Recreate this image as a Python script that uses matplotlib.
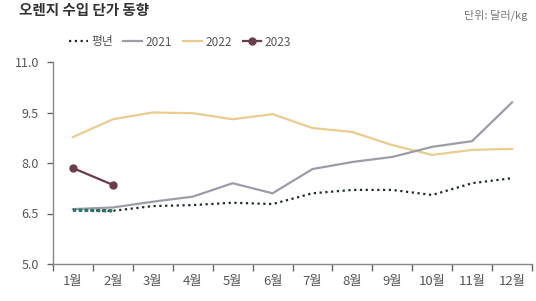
import matplotlib
matplotlib.use("Agg")
import matplotlib.pyplot as plt

plt.rcParams['font.family'] = ['Noto Sans CJK KR', 'DejaVu Sans']

months = ['1월', '2월', '3월', '4월', '5월', '6월', '7월', '8월', '9월', '10월', '11월', '12월']
avg = [6.60, 6.58, 6.72, 6.75, 6.82, 6.78, 7.10, 7.20, 7.20, 7.05, 7.40, 7.55]
y2021 = [6.63, 6.68, 6.85, 7.00, 7.40, 7.10, 7.82, 8.03, 8.18, 8.48, 8.65, 9.80]
y2022 = [8.77, 9.30, 9.50, 9.48, 9.30, 9.45, 9.04, 8.92, 8.53, 8.24, 8.39, 8.42]
y2023 = [7.85, 7.35]
yticks = [5.0, 6.5, 8.0, 9.5, 11.0]

fig = plt.figure(figsize=(5.36, 3.01), dpi=100)
ax = fig.add_axes([53/536, 1 - 264/301, (532-53)/536, (264-62)/301])

x = list(range(len(months)))
ax.plot(x, y2022, color='#E9CC8E', lw=1.6, label='2022', zorder=2)
ax.plot(x, y2021, color='#9C9CA8', lw=1.6, label='2021', zorder=2)
ax.plot(x, avg, color='#1d2a28', lw=1.6, ls=(0, (1, 1.6)), label='평년', zorder=3)
ax.plot(x[:2], avg[:2], color='#1f7a68', lw=2.4, ls=(0, (1, 0.8)), zorder=4)
ax.plot(x[:2], y2023, color='#6a3c4c', lw=1.6, marker='o', ms=5, label='2023', zorder=5)

ax.set_xlim(-0.5, 11.5)
ax.set_ylim(5.0, 11.0)
ax.set_yticks(yticks)
ax.set_yticklabels([f'{v:.1f}' for v in yticks])
ax.set_xticks([i - 0.5 for i in range(13)])
ax.set_xticklabels([])
ax.set_xticks(x, minor=True)
ax.set_xticklabels(months, minor=True)
ax.tick_params(axis='x', which='minor', length=0, pad=8, labelsize=9.5, colors='#555555')
ax.tick_params(axis='x', which='major', length=5, width=1, color='#666666', direction='out')
ax.tick_params(axis='y', length=4, width=1, color='#666666', labelsize=9, labelcolor='#555555', pad=6)

for s in ['top', 'right']:
    ax.spines[s].set_visible(False)
for s in ['left', 'bottom']:
    ax.spines[s].set_color('#888888')
    ax.spines[s].set_linewidth(1)

h, l = ax.get_legend_handles_labels()
order = [l.index('평년'), l.index('2021'), l.index('2022'), l.index('2023')]
fig.legend([h[i] for i in order], [l[i] for i in order], loc='center left',
           bbox_to_anchor=(58/536, 1 - 42/301), ncol=4, frameon=False,
           fontsize=8.5, handlelength=1.6, handletextpad=0.3, columnspacing=0.9,
           labelcolor='#555555')

fig.text(0.985, 1 - 15/301, '단위: 달러/kg', ha='right', va='center', fontsize=8, color='#777777')
fig.text(0.035, 1 - 2/301, '오렌지 수입 단가 동향', ha='left', va='top', fontsize=10.5,
         fontweight='bold', color='#333333')

fig.savefig('out.png', dpi=100, facecolor='white')
